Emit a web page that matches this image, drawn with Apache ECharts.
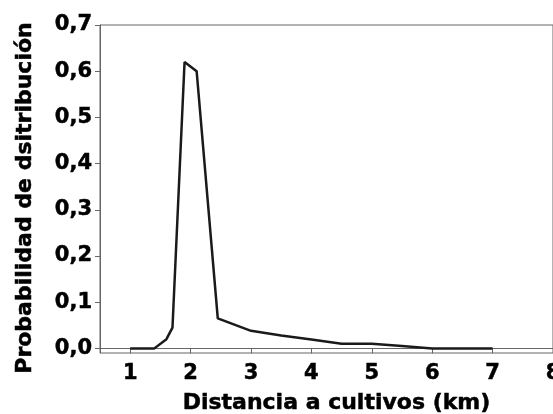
<!DOCTYPE html>
<html>
<head>
<meta charset="utf-8">
<script src="https://cdn.jsdelivr.net/npm/echarts@6/dist/echarts.min.js"></script>
<style>
  html, body { margin: 0; padding: 0; background: #fff; }
  #chart { width: 553px; height: 414px; }
</style>
</head>
<body>
<div id="chart"></div>
<script>
// distancia (km) y probabilidad
var distancias = [1, 1.4, 1.6, 1.7, 1.9, 2.1, 2.45, 3, 3.5, 4, 4.5, 5, 5.5, 6, 7];
var probabilidad = [0, 0, 0.02, 0.045, 0.62, 0.6, 0.065, 0.038, 0.028, 0.019, 0.01, 0.01, 0.005, 0, 0];
var xTicks = [1, 2, 3, 4, 5, 6, 7, 8];
var yTicks = [0, 0.1, 0.2, 0.3, 0.4, 0.5, 0.6, 0.7];

var font = 'DejaVu Sans';

// texto grueso, como en la figura original
function heavy(size) {
  return {
    fontFamily: font, fontWeight: 'bold', fontSize: size, color: '#000',
    textBorderColor: '#000', textBorderWidth: 0.5
  };
}

var chart = echarts.init(document.getElementById('chart'));

var option = {
  backgroundColor: '#ffffff',
  animation: false,
  grid: {
    left: 100,
    right: 0,
    top: 25,
    bottom: 61,
    outerBoundsMode: 'none',
    containLabel: false,
    show: true,
    borderColor: '#666',
    borderWidth: 1
  },
  xAxis: {
    type: 'value',
    min: 0.5,
    max: 8,
    name: 'Distancia a cultivos (km)',
    nameLocation: 'middle',
    nameGap: 39,
    nameTextStyle: Object.assign(heavy(22), { padding: [0, 0, 0, 20] }),
    axisLine: { lineStyle: { color: '#666', width: 1 } },
    axisTick: { customValues: xTicks, length: 5, lineStyle: { color: '#666' } },
    axisLabel: Object.assign(heavy(21), {
      customValues: xTicks,
      margin: 10,
      hideOverlap: false
    }),
    splitLine: { show: false }
  },
  yAxis: {
    type: 'value',
    min: -0.01,
    max: 0.7,
    name: 'Probabilidad de dsitribución',
    nameLocation: 'middle',
    nameGap: 64,
    nameTextStyle: Object.assign(heavy(22), { padding: [0, 0, 0, -18] }),
    axisLine: { lineStyle: { color: '#666', width: 1 } },
    axisTick: { customValues: yTicks, length: 5, lineStyle: { color: '#666' } },
    axisLabel: Object.assign(heavy(21), {
      customValues: yTicks,
      margin: 8,
      formatter: function (v) { return v.toFixed(1).replace('.', ','); }
    }),
    splitLine: { show: false }
  },
  series: [{
    type: 'line',
    data: distancias.map(function (d, i) { return [d, probabilidad[i]]; }),
    showSymbol: false,
    lineStyle: { color: '#1a1a1a', width: 2.5 }
  }]
};

chart.setOption(option);
</script>
</body>
</html>
